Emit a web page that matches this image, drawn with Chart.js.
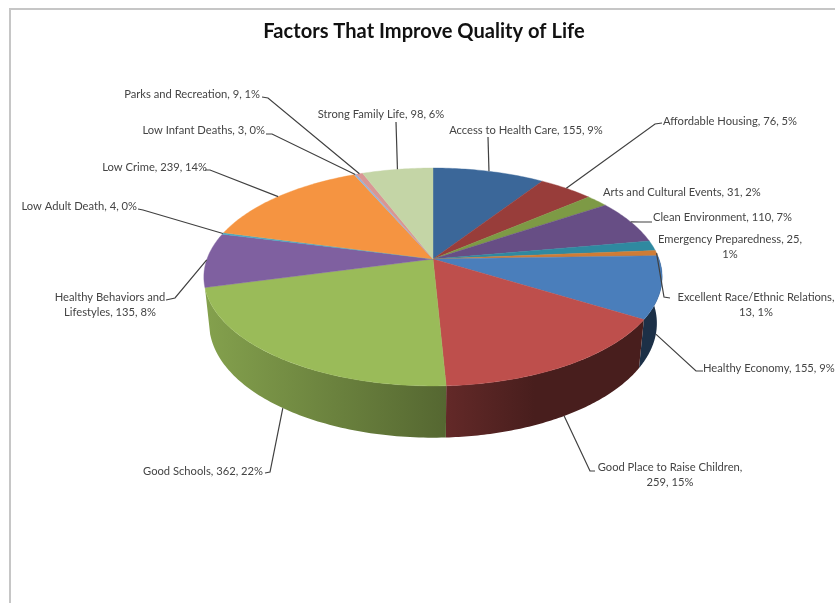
<!DOCTYPE html>
<html>
<head>
<meta charset="utf-8">
<title>Factors That Improve Quality of Life</title>
<script src="https://cdn.jsdelivr.net/npm/chart.js@4"></script>
<style>
  html, body { margin: 0; padding: 0; background: #fff; overflow: hidden; }
  #frame { position: absolute; left: 9px; top: 8px; right: -4px; bottom: -4px; border-left: 2px solid #c6c6c6; border-top: 2px solid #c6c6c6; filter: blur(0.6px); }
  #wrap { position: absolute; left: 0; top: 0; width: 835px; height: 603px; filter: blur(0.75px); }
</style>
</head>
<body>
<div id="frame"></div>
<div id="wrap"><canvas id="pie" width="835" height="603"></canvas></div>
<script>
var TITLE = 'Factors That Improve Quality of Life';
var categories = [
  'Access to Health Care', 'Affordable Housing', 'Arts and Cultural Events', 'Clean Environment',
  'Emergency Preparedness', 'Excellent Race/Ethnic Relations', 'Healthy Economy',
  'Good Place to Raise Children', 'Good Schools', 'Healthy Behaviors and Lifestyles',
  'Low Adult Death', 'Low Crime', 'Low Infant Deaths', 'Parks and Recreation', 'Strong Family Life'
];
var values = [155, 76, 31, 110, 25, 13, 155, 259, 362, 135, 4, 239, 3, 9, 98];
var colors = [
  '#3b6799', '#983d3a', '#7d9a45', '#674e85', '#2f89a0', '#cf7c35', '#4a7ebb',
  '#be4f4c', '#9abb59', '#7f60a0', '#46aac4', '#f59441', '#95b3d7', '#d99694', '#c4d5a6'
];

// label layout per slice: text anchor, alignment, and bent leader line (all in page pixels)
var labelLines = [
  null, null, null, null,
  ['Emergency Preparedness, 25,', '1%'],
  ['Excellent Race/Ethnic Relations,', '13, 1%'],
  null,
  ['Good Place to Raise Children,', '259, 15%'],
  null,
  ['Healthy Behaviors and', 'Lifestyles, 135, 8%'],
  null, null, null, null, null
];
var labelX = [526, 663, 603, 653, 730, 756, 703, 670, 263, 110, 137, 207, 265, 260, 381];
var labelY = [130, 121, 192, 217, 239, 297, 368, 467, 471, 297, 206, 167, 130, 94, 114];
var labelAlign = ['center', 'left', 'left', 'left', 'center', 'center', 'left', 'center', 'right', 'center', 'right', 'right', 'right', 'right', 'center'];
var leaders = [
  [[488, 137]],
  [[655, 124], [662, 123]],
  null,
  [[640, 222], [652, 222]],
  null,
  [[664, 297], [670, 298]],
  [[696, 371], [703, 371]],
  [[590, 471], [595, 471]],
  [[270, 472], [265, 473]],
  [[175, 298], [166, 300]],
  [[143, 210], [138, 209]],
  [[210, 170], [205, 170]],
  [[272, 134], [266, 134]],
  [[268, 98], [262, 97]],
  [[396, 122]]
];

// side wall shading per visible slice: brightness at pie left edge -> right edge of the slice
var sideShade = { 6: [0.38, 0.38], 7: [0.52, 0.38], 8: [0.86, 0.55] };

var TILT = 0.469;     // vertical squash of the pie face
var PERSP = 0.165;    // perspective strength, near edge looks bigger
var DEPTH = 45.4;     // wall offset of the lower rim
var LOW_X = 0.977;    // lower rim width
var LOW_Y = 1.05;     // lower rim height

function project(arc, angle, lower) {
  var u = Math.cos(angle);
  var v = Math.sin(angle);
  var w = 1 - PERSP * v;
  var rx = arc.outerRadius * (lower ? LOW_X : 1);
  var ry = arc.outerRadius * TILT * (lower ? LOW_Y : 1);
  return { x: arc.x + rx * u / w, y: arc.y + (lower ? DEPTH : 0) + ry * v / w };
}

function shadeColor(hex, f) {
  var n = parseInt(hex.slice(1), 16);
  return 'rgb(' + Math.round((n >> 16) * f) + ',' + Math.round(((n >> 8) & 255) * f) + ',' + Math.round((n & 255) * f) + ')';
}

function drawWall(ctx, arc, i) {
  var shade = sideShade[i];
  var steps = 80;
  var s;
  var top = [];
  var low = [];
  for (s = 0; s <= steps; s++) {
    var a = arc.startAngle + (arc.endAngle - arc.startAngle) * s / steps;
    top.push(project(arc, a, false));
    low.push(project(arc, a, true));
  }
  var xs = top.concat(low).map(function (p) { return p.x; });
  var g = ctx.createLinearGradient(Math.min.apply(null, xs), 0, Math.max.apply(null, xs), 0);
  var c0 = shadeColor(colors[i], shade[0]);
  var c1 = shadeColor(colors[i], shade[1]);
  // good place wall runs dark-to-darker left to right, schools light-to-dark too
  g.addColorStop(0, c0);
  g.addColorStop(i === 7 ? 0.45 : 1, c1);
  g.addColorStop(1, c1);
  ctx.fillStyle = g;
  ctx.beginPath();
  top.forEach(function (p, idx) { if (idx) ctx.lineTo(p.x, p.y); else ctx.moveTo(p.x, p.y); });
  low.reverse().forEach(function (p) { ctx.lineTo(p.x, p.y); });
  ctx.closePath();
  ctx.fill();
}

function drawFace(ctx, arc, i) {
  var steps = Math.max(4, Math.ceil((arc.endAngle - arc.startAngle) * 60));
  ctx.beginPath();
  ctx.moveTo(arc.x, arc.y);
  for (var s = 0; s <= steps; s++) {
    var p = project(arc, arc.startAngle + (arc.endAngle - arc.startAngle) * s / steps, false);
    ctx.lineTo(p.x, p.y);
  }
  ctx.closePath();
  ctx.fillStyle = colors[i];
  ctx.strokeStyle = colors[i];
  ctx.lineWidth = 0.4;
  ctx.fill();
  ctx.stroke();
}

function drawLabels(ctx, arcs) {
  var total = values.reduce(function (s, v) { return s + v; }, 0);
  ctx.font = '11.2px Lato, sans-serif';
  ctx.textBaseline = 'middle';
  arcs.forEach(function (arc, i) {
    var mid = (arc.startAngle + arc.endAngle) / 2;
    if (leaders[i]) {
      // front slices hang the leader from the lower rim
      var start = project(arc, mid, sideShade[i] !== undefined);
      ctx.strokeStyle = '#404040';
      ctx.lineWidth = 1.2;
      ctx.beginPath();
      ctx.moveTo(start.x, start.y);
      leaders[i].forEach(function (p) { ctx.lineTo(p[0], p[1]); });
      ctx.stroke();
    }
    var text = categories[i] + ', ' + values[i] + ', ' + Math.round(values[i] / total * 100) + '%';
    var lines = labelLines[i] || [text];
    ctx.fillStyle = '#444';
    ctx.textAlign = labelAlign[i];
    lines.forEach(function (line, n) {
      ctx.fillText(line, labelX[i], labelY[i] + n * 15);
    });
  });
  ctx.font = 'bold 20.1px Lato, sans-serif';
  ctx.fillStyle = '#111';
  ctx.textAlign = 'center';
  ctx.fillText(TITLE, 424, 32);
}

var pie3d = {
  id: 'pie3d',
  beforeDatasetDraw: function (chart, args) {
    var ctx = chart.ctx;
    var arcs = args.meta.data;
    arcs.forEach(function (arc, i) { if (sideShade[i]) drawWall(ctx, arc, i); });
    arcs.forEach(function (arc, i) { drawFace(ctx, arc, i); });
    drawLabels(ctx, arcs);
    return false;
  }
};

new Chart(document.getElementById('pie'), {
  type: 'pie',
  data: {
    labels: categories,
    datasets: [{ data: values, backgroundColor: colors, borderWidth: 0 }]
  },
  options: {
    responsive: false,
    animation: false,
    layout: { padding: { left: 207, right: 176, top: 33, bottom: 118 } },
    plugins: {
      legend: { display: false },
      tooltip: { enabled: false }
    }
  },
  plugins: [pie3d]
});
</script>
</body>
</html>
